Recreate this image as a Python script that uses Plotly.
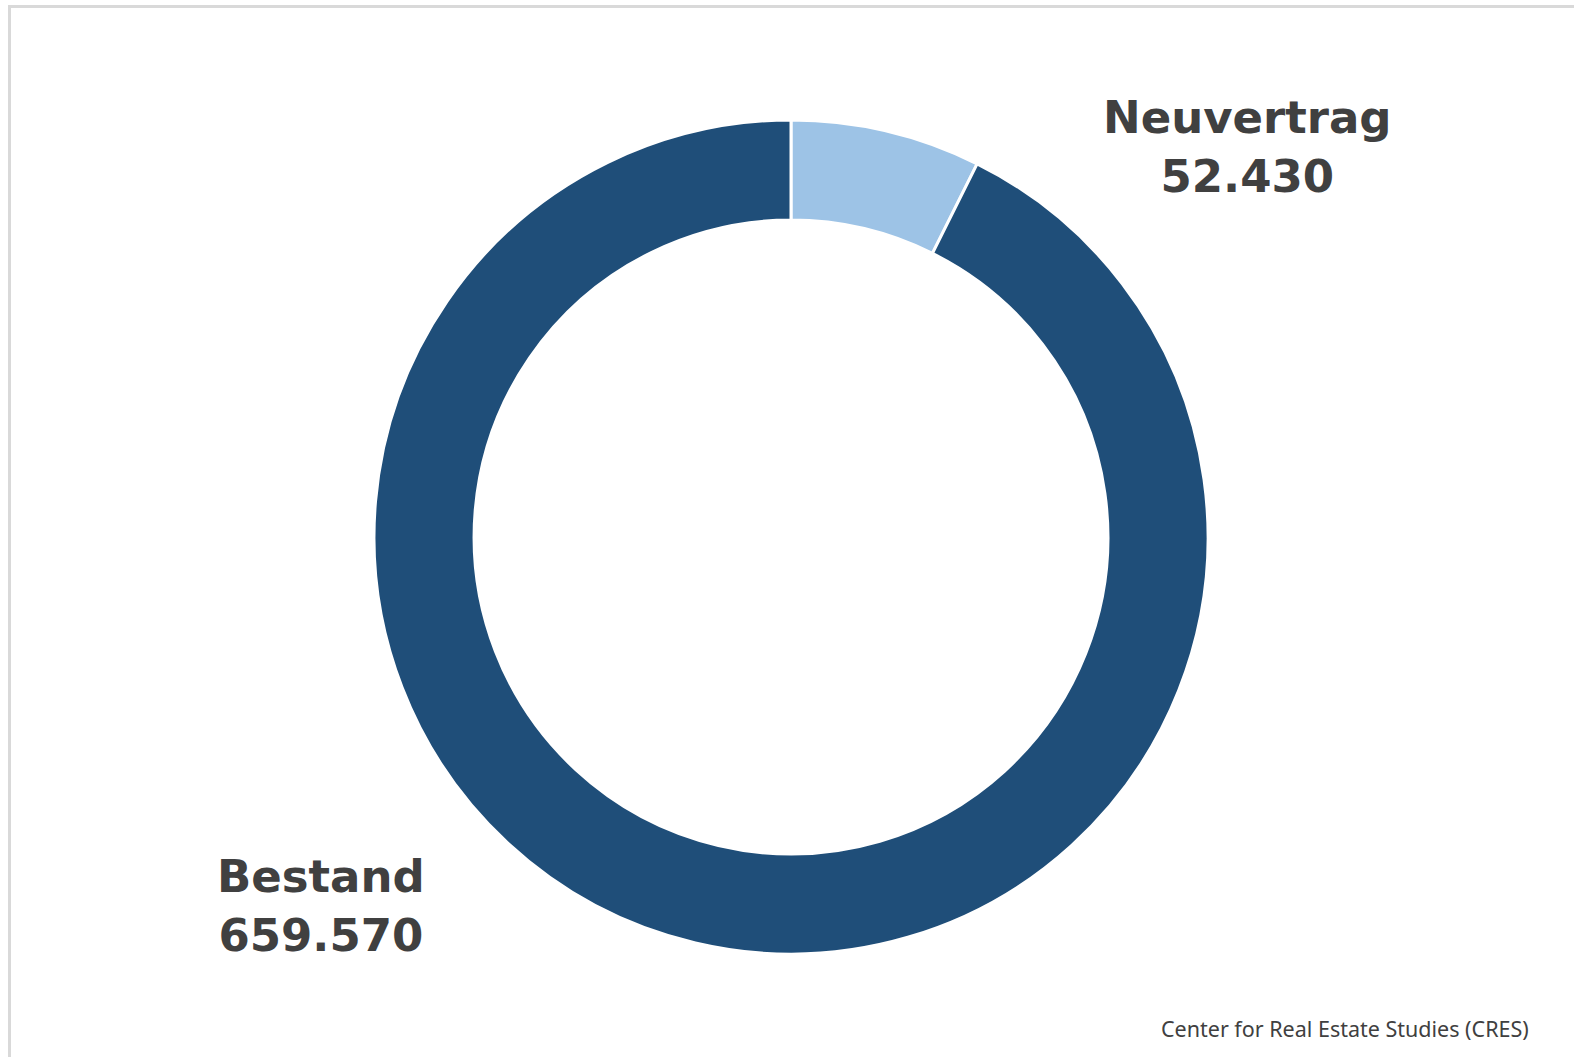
import plotly.graph_objects as go

labels = ["Neuvertrag", "Bestand"]
values = [52430, 659570]
colors = ["#9DC3E6", "#1F4E79"]
source_text = "Center for Real Estate Studies (CRES)"

W, H = 1574, 1057

def fmt(v):
    return f"{v:,}".replace(",", ".")

fig = go.Figure()
fig.add_trace(go.Pie(
    labels=labels, values=values, sort=False, direction="clockwise", rotation=0,
    hole=0.76, marker=dict(colors=colors, line=dict(color="white", width=3)),
    textinfo="none", hoverinfo="label+value", showlegend=False,
    domain=dict(x=[374 / W, 1208 / W], y=[(H - 954) / H, (H - 120) / H]),
))

label_pos = {"Neuvertrag": (1247 / W, 147), "Bestand": (321 / W, 906)}
for lab, val in zip(labels, values):
    px, py = label_pos[lab]
    fig.add_annotation(
        x=px, y=1 - py / H, xref="paper", yref="paper", xanchor="center", yanchor="middle",
        text=f"<b>{lab}<br>{fmt(val)}</b>", showarrow=False, align="center",
        font=dict(family="DejaVu Sans", size=45, color="#404040"),
    )

fig.add_annotation(
    x=1531 / W, y=1 - 1028 / H, xref="paper", yref="paper", xanchor="right", yanchor="middle",
    text=source_text, showarrow=False,
    font=dict(family="Noto Sans", size=21.5, color="#404040"),
)

fig.add_shape(type="line", xref="paper", yref="paper", x0=8 / W, x1=1, y0=1 - 6.5 / H, y1=1 - 6.5 / H,
              line=dict(color="#D9D9D9", width=3))
fig.add_shape(type="line", xref="paper", yref="paper", x0=9.5 / W, x1=9.5 / W, y0=0, y1=1 - 5 / H,
              line=dict(color="#D9D9D9", width=3))

fig.update_layout(
    width=W, height=H, margin=dict(l=0, r=0, t=0, b=0),
    paper_bgcolor="white", plot_bgcolor="white",
)

fig.write_html("out.html", config={"displayModeBar": False},
               post_script="document.body.style.margin='0';document.body.style.overflow='hidden';")
